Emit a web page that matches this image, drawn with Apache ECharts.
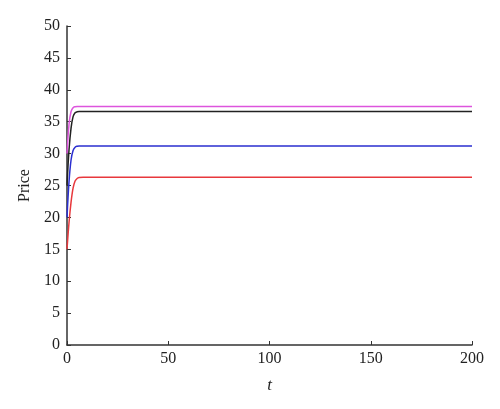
<!DOCTYPE html>
<html>
<head>
<meta charset="utf-8">
<script src="https://cdn.jsdelivr.net/npm/echarts@6/dist/echarts.min.js"></script>
<style>
  html, body { margin: 0; padding: 0; background: #fff; }
  #chart { width: 500px; height: 409px; }
</style>
</head>
<body>
<div id="chart"></div>
<script>
// time points (the curves settle within ~8 steps)
const tValues = [0, 1, 2, 3, 4, 5, 6, 8, 10, 200];

const redPrice     = [15, 19.2, 22.4, 24.6, 25.7, 26.1, 26.25, 26.3, 26.3, 26.3];
const bluePrice    = [20, 25.6, 29.0, 30.5, 31.0, 31.15, 31.2, 31.2, 31.2, 31.2];
const blackPrice   = [25, 30.6, 34.0, 35.8, 36.4, 36.55, 36.6, 36.6, 36.6, 36.6];
const magentaPrice = [30, 34.6, 36.6, 37.2, 37.35, 37.4, 37.4, 37.4, 37.4, 37.4];

const serif = '"Liberation Serif", "DejaVu Serif", serif';

function toPairs(vals) {
    return tValues.map(function (t, i) { return [t, vals[i]]; });
}

function lineSeries(name, vals, color) {
    return {
        name: name,
        type: 'line',
        data: toPairs(vals),
        smooth: 0.35,
        showSymbol: false,
        lineStyle: { color: color, width: 1.5 },
        itemStyle: { color: color },
        animation: false
    };
}

const chart = echarts.init(document.getElementById('chart'));
chart.setOption({
    backgroundColor: '#fff',
    grid: { left: 67, right: 28, top: 26, bottom: 64 },
    xAxis: {
        type: 'value',
        min: 0, max: 200, interval: 50,
        name: 't',
        nameLocation: 'middle',
        nameGap: 32,
        nameTextStyle: { fontFamily: serif, fontStyle: 'italic', fontSize: 17, color: '#222' },
        axisLine: { lineStyle: { color: '#333', width: 1.5 } },
        axisTick: { inside: true, length: 4, lineStyle: { color: '#333' } },
        axisLabel: { fontFamily: serif, fontSize: 16, color: '#222', margin: 6 },
        splitLine: { show: false }
    },
    yAxis: {
        type: 'value',
        min: 0, max: 50, interval: 5,
        name: 'Price',
        nameLocation: 'middle',
        nameGap: 33,
        nameTextStyle: { fontFamily: serif, fontSize: 16, color: '#222' },
        axisLine: { show: true, lineStyle: { color: '#333', width: 1.5 } },
        axisTick: { show: true, inside: true, length: 4, lineStyle: { color: '#333' } },
        axisLabel: { fontFamily: serif, fontSize: 16, color: '#222', margin: 7 },
        splitLine: { show: false }
    },
    series: [
        lineSeries('red', redPrice, '#e8383c'),
        lineSeries('blue', bluePrice, '#2b2fd0'),
        lineSeries('black', blackPrice, '#222222'),
        lineSeries('magenta', magentaPrice, '#dd55dd')
    ]
});
</script>
</body>
</html>
